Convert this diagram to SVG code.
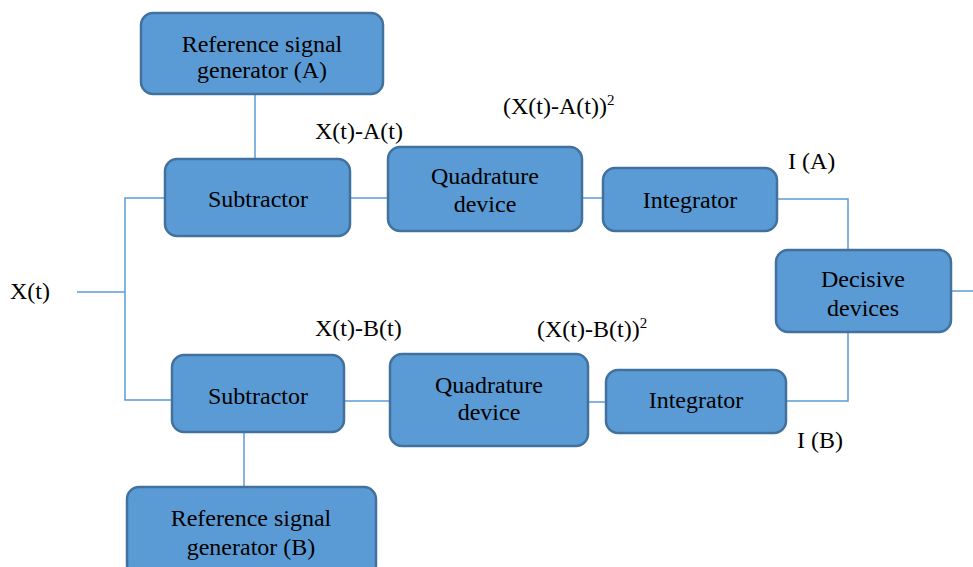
<svg xmlns="http://www.w3.org/2000/svg" width="973" height="567" viewBox="0 0 973 567" font-family="Liberation Serif, DejaVu Serif, serif">
<style>
.box{fill:#5B9BD5;stroke:#41719C;stroke-width:2.5}
.t{font-size:24px;fill:#000}
.c{text-anchor:middle}
.sup{font-size:15px}
.ln{fill:none;stroke:#5B9BD5;stroke-width:1.5}
</style>
<rect width="973" height="567" fill="#fff"/>
<g id="connectors" class="ln">
<path d="M255,94 V159"/>
<path d="M77,292 H125"/>
<path d="M165,198 H125 V400 H172"/>
<path d="M350,198 H388"/>
<path d="M582,198 H603"/>
<path d="M777,199 H848 V250"/>
<path d="M951,291 H973"/>
<path d="M848,332 V401 H786"/>
<path d="M344,401 H390"/>
<path d="M588,402 H606"/>
<path d="M244,432 V487"/>
</g>
<g id="refA"><rect class="box" x="141" y="13" width="242" height="81" rx="12"/>
<text class="t c" x="262" y="52">Reference signal</text><text class="t c" x="262" y="78">generator (A)</text></g>
<g id="subA"><rect class="box" x="165" y="159" width="185" height="77" rx="12"/>
<text class="t c" x="258" y="207">Subtractor</text></g>
<g id="quadA"><rect class="box" x="388" y="147" width="194" height="84" rx="12"/>
<text class="t c" x="485" y="184">Quadrature</text><text class="t c" x="485" y="212">device</text></g>
<g id="intA"><rect class="box" x="603" y="168" width="174" height="63" rx="12"/>
<text class="t c" x="690" y="208">Integrator</text></g>
<g id="decisive"><rect class="box" x="776" y="250" width="175" height="82" rx="12"/>
<text class="t c" x="863" y="287">Decisive</text><text class="t c" x="863" y="316">devices</text></g>
<g id="subB"><rect class="box" x="172" y="355" width="172" height="77" rx="12"/>
<text class="t c" x="258" y="404">Subtractor</text></g>
<g id="quadB"><rect class="box" x="390" y="354" width="198" height="92" rx="12"/>
<text class="t c" x="489" y="393">Quadrature</text><text class="t c" x="489" y="420">device</text></g>
<g id="intB"><rect class="box" x="606" y="370" width="180" height="63" rx="12"/>
<text class="t c" x="696" y="408">Integrator</text></g>
<g id="refB"><rect class="box" x="127" y="487" width="249" height="90" rx="12"/>
<text class="t c" x="251" y="526">Reference signal</text><text class="t c" x="251" y="555">generator (B)</text></g>
<g id="labels">
<text class="t" x="10" y="299">X(t)</text>
<text class="t" x="315" y="139">X(t)-A(t)</text>
<text class="t" x="503" y="114">(X(t)-A(t))<tspan class="sup" dy="-9">2</tspan></text>
<text class="t" x="788" y="169">I (A)</text>
<text class="t" x="315" y="336">X(t)-B(t)</text>
<text class="t" x="537" y="337">(X(t)-B(t))<tspan class="sup" dy="-9">2</tspan></text>
<text class="t" x="797" y="448">I (B)</text>
</g>
</svg>
